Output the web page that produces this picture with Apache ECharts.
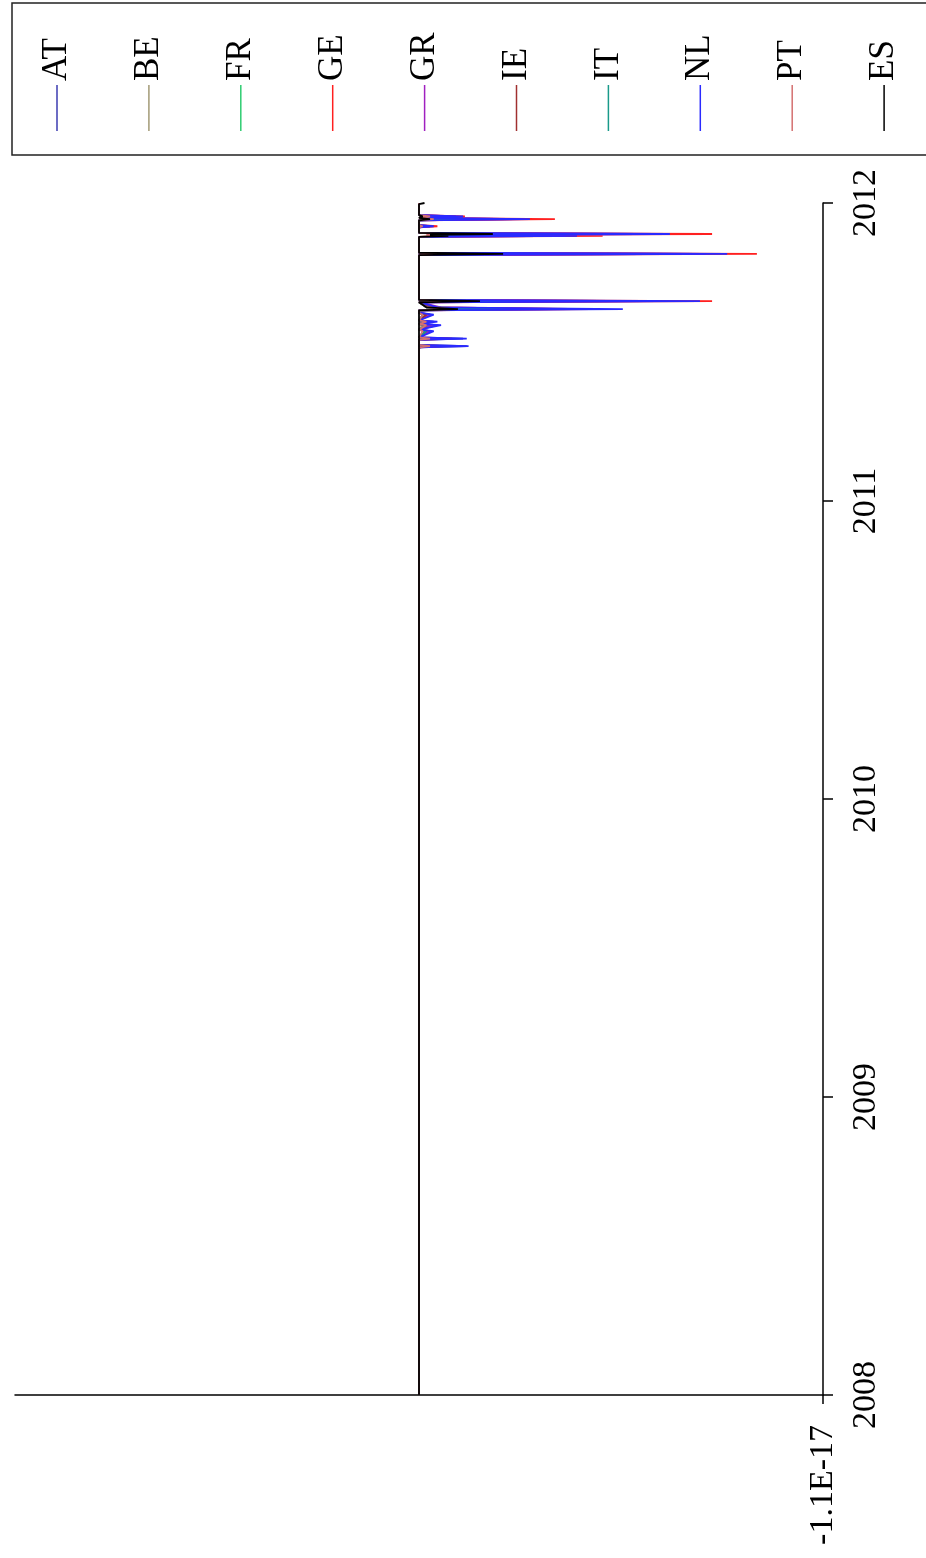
<!DOCTYPE html>
<html>
<head>
<meta charset="utf-8">
<script src="https://cdn.jsdelivr.net/npm/echarts@6/dist/echarts.min.js"></script>
<style>
	html, body { margin: 0; padding: 0; background: #fff; }
	#chart { width: 926px; height: 1558px; }
</style>
</head>
<body>
<div id="chart"></div>
<script>
// dates as decimal years (vertical axis), values in units of 1E-18 (horizontal axis)
var dates = [2008.000, 2011.500, 2011.516, 2011.520, 2011.524, 2011.541, 2011.545, 2011.549,
	2011.570, 2011.575, 2011.590, 2011.594, 2011.602, 2011.606, 2011.625, 2011.632,
	2011.640, 2011.644, 2011.650, 2011.667, 2011.671, 2011.675, 2011.750, 2011.760,
	2011.825, 2011.829, 2011.833, 2011.886, 2011.890, 2011.893, 2011.896, 2011.900,
	2011.918, 2011.922, 2011.926, 2011.942, 2011.946, 2011.950, 2011.955, 2011.959,
	2011.996, 2012.000];

var seriesNames = ["AT", "BE", "FR", "GE", "GR", "IE", "IT", "NL", "PT", "ES"];
var seriesColors = ["#3b3bb0", "#a39a76", "#2ecc71", "#ff2020", "#a020c0", "#a03030", "#1a9a8a", "#2a2aff", "#d47070", "#000000"];

var valuesAT = [0, 0, 0, -1.3, 0, 0, -1.2, 0, -0.3, 0, -0.5, 0, -0.4, 0, -0.3, 0, 0, -3.65, -0.3, 0, -6.2, 0, 0, 0, 0, -7.6, 0, 0, -4.3, -0.5, -6.0, 0, 0, -0.3, 0, 0, -2.6, 0, -1.0, 0, 0, 0];
var valuesBE = [0, 0, 0, -0.3, 0, 0, -0.2, 0, -0.2, 0, -0.1, 0, -0.1, 0, -0.1, 0, 0, -1.85, -0.2, 0, -2.2, 0, 0, 0, 0, -2.6, 0, 0, -1.2, -0.3, -2.1, 0, 0, -0.1, 0, 0, -0.8, 0, -0.3, 0, 0, 0];
var valuesFR = [0, 0, 0, -0.55, 0, 0, -0.3, 0, -0.2, 0, -0.3, 0, -0.2, 0, -0.2, 0, 0, -2.83, -0.2, 0, -2.89, 0, 0, 0, 0, -3.0, 0, 0, -1.8, -0.4, -3.38, 0, 0, -0.2, 0, 0, -1.2, 0, -0.4, 0, 0, 0];
var valuesGE = [0, 0, 0, -0.7, 0, 0, -0.9, 0, -0.3, 0, -0.4, 0, -0.3, 0, -0.2, 0, 0, -4.7, -0.4, 0, -7.98, 0, 0, 0, 0, -9.2, 0, 0, -5.0, -0.5, -7.98, 0, 0, -0.5, 0, 0, -3.7, 0, -1.25, 0, 0, 0];
var valuesGR = [0, 0, 0, -0.4, 0, 0, -0.5, 0, -0.3, 0, -0.4, 0, -0.3, 0, -0.3, 0, 0, -4.2, -0.6, 0, -6.5, 0, 0, 0, 0, -7.8, 0, 0, -4.0, -0.6, -6.5, 0, 0, -0.3, 0, 0, -2.8, 0, -1.0, 0, 0, 0];
var valuesIE = [0, 0, 0, -0.3, 0, 0, -0.3, 0, -0.2, 0, -0.2, 0, -0.2, 0, -0.2, 0, 0, -1.5, -0.3, 0, -2.4, 0, 0, 0, 0, -2.5, 0, 0, -1.0, -0.3, -1.6, 0, 0, -0.1, 0, 0, -0.6, 0, -0.2, 0, 0, 0];
var valuesIT = [0, 0, 0, -0.3, 0, 0, -0.3, 0, -0.2, 0, -0.2, 0, -0.2, 0, -0.1, 0, 0, -2.5, -0.2, 0, -2.7, 0, 0, 0, 0, -3.2, 0, 0, -1.5, -0.3, -2.7, 0, 0, -0.1, 0, 0, -1.0, 0, -0.3, 0, 0, 0];
var valuesNL = [0, 0, 0, -1.35, 0, 0, -1.3, 0, -0.4, 0, -0.6, 0, -0.5, 0, -0.4, 0, 0, -5.55, -0.5, 0, -7.65, 0, 0, 0, 0, -8.39, 0, 0, -4.3, -0.6, -6.83, 0, 0, -0.4, 0, 0, -3.02, 0, -1.2, 0, 0, 0];
var valuesPT = [0, 0, 0, -0.3, 0, 0, -0.3, 0, -0.1, 0, -0.2, 0, -0.2, 0, -0.1, 0, 0, -0.9, -0.2, 0, -0.8, 0, 0, 0, 0, -0.7, 0, 0, -0.5, -0.2, -0.6, 0, 0, -0.1, 0, 0, -0.4, 0, -0.3, 0, 0, 0];
var valuesES = [0, 0, 0, -0.05, 0, 0, -0.05, 0, 0, 0, 0, 0, 0, 0, 0, 0, 0, -1.06, -0.2, 0, -1.66, 0, 0, 0, 0, -2.29, 0, 0, -0.8, -0.3, -2.01, 0, 0, -0.05, 0, 0, -0.3, 0, -0.1, 0, 0, -0.15];

var seriesValues = [valuesAT, valuesBE, valuesFR, valuesGE, valuesGR, valuesIE, valuesIT, valuesNL, valuesPT, valuesES];

var yearTicks = [2008, 2009, 2010, 2011, 2012];
var valueMin = -11;
var valueMax = 11;
var valueTickLabels = ["-1.1E-17"];

var serif = "Liberation Serif, Times New Roman, serif";

var chart = echarts.init(document.getElementById("chart"));

var series = [];
seriesNames.forEach(function (name, i) {
	var vals = seriesValues[i];
	var data = [];
	for (var k = 0; k < dates.length; k++) {
		data.push([vals[k], dates[k]]);
	}
	series.push({
		name: name,
		type: "line",
		data: data,
		showSymbol: false,
		symbol: "none",
		lineStyle: { color: seriesColors[i], width: 1.8 },
		itemStyle: { color: seriesColors[i] }
	});
});

// legend box drawn as graphics so the names can stand vertically
var legendItems = [{
	type: "rect",
	shape: { x: 12, y: 3, width: 940, height: 152 },
	style: { fill: "#fff", stroke: "#222", lineWidth: 1.5 }
}];
seriesNames.forEach(function (name, i) {
	var cx = 57 + i * 91.9;
	legendItems.push({
		type: "line",
		shape: { x1: cx, y1: 85, x2: cx, y2: 131 },
		style: { stroke: seriesColors[i], lineWidth: 1.5 }
	});
	legendItems.push({
		type: "text",
		x: cx,
		y: 81,
		rotation: Math.PI / 2,
		style: {
			text: name,
			fill: "#000",
			font: "35px " + serif,
			align: "left",
			verticalAlign: "middle"
		}
	});
});

var option = {
	animation: false,
	backgroundColor: "#fff",
	grid: {
		left: 15,
		right: 103,
		top: 203,
		bottom: 163,
		containLabel: false
	},
	xAxis: {
		type: "value",
		inverse: true,
		position: "bottom",
		min: valueMin,
		max: valueMax,
		interval: valueMax - valueMin,
		axisLine: { show: true, onZero: false, lineStyle: { color: "#000", width: 1.5 } },
		axisTick: { show: true, length: 9, customValues: [valueMin], lineStyle: { color: "#000", width: 1.5 } },
		axisLabel: {
			show: true,
			customValues: [valueMin],
			rotate: 90,
			margin: 30,
			color: "#000",
			fontSize: 34,
			fontFamily: serif,
			formatter: function () { return valueTickLabels[0]; }
		},
		splitLine: { show: false }
	},
	yAxis: {
		type: "value",
		position: "right",
		min: yearTicks[0],
		max: yearTicks[yearTicks.length - 1],
		interval: 1,
		axisLine: { show: true, onZero: false, lineStyle: { color: "#000", width: 1.5 } },
		axisTick: { show: true, length: 10, lineStyle: { color: "#000", width: 1.5 } },
		axisLabel: {
			show: true,
			rotate: 90,
			margin: 26,
			color: "#000",
			fontSize: 34,
			fontFamily: serif,
			formatter: function (v) { return String(v); }
		},
		splitLine: { show: false }
	},
	graphic: legendItems,
	series: series
};

chart.setOption(option);
</script>
</body>
</html>
